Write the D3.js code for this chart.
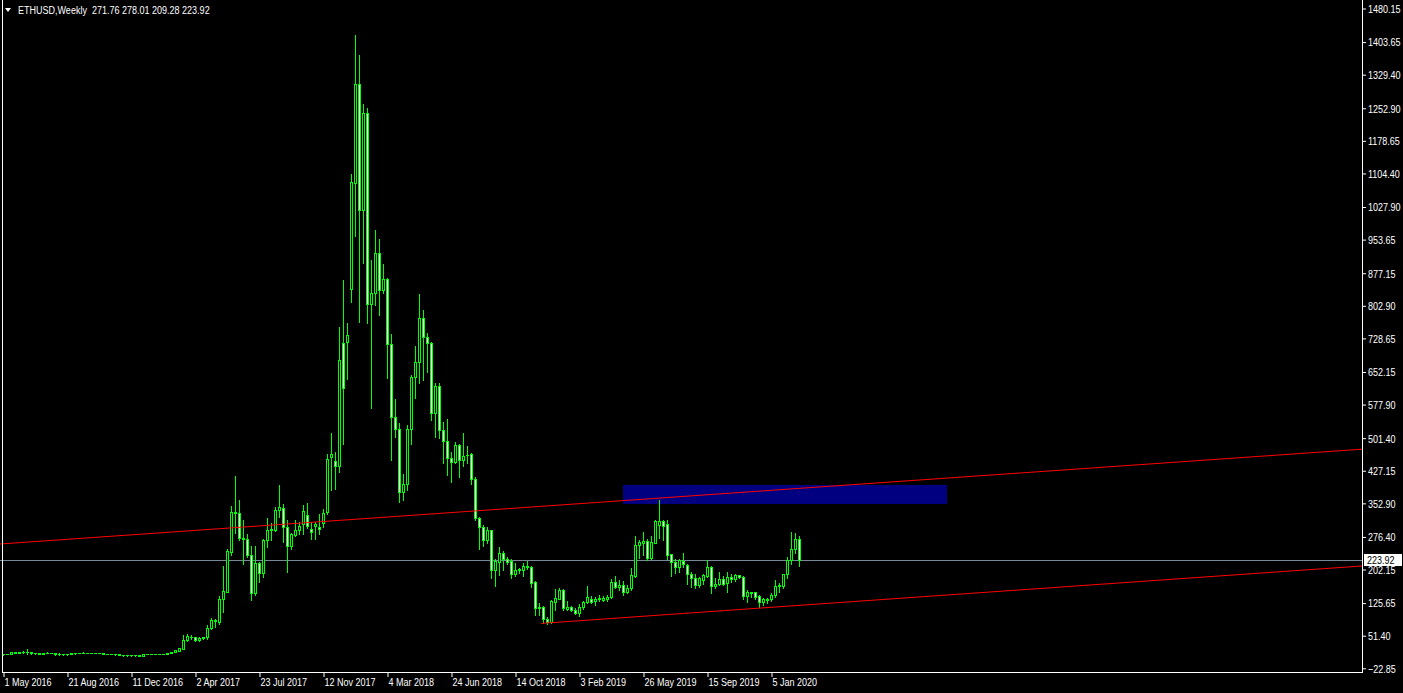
<!DOCTYPE html>
<html>
<head>
<meta charset="utf-8">
<script src="https://cdn.jsdelivr.net/npm/d3@7"></script>
<style>
  body { margin: 0; background: #000; overflow: hidden; }
  text { font-family: "Liberation Sans", Arial, sans-serif; font-size: 11px; fill: #fff; }
</style>
</head>
<body>
<script>
const W = 1403, H = 693;

// weekly bars, first bar = week of 1 May 2016
const opens = [
  9.0, 9.3, 9.6, 13.5, 12.8, 13.3, 14.0, 13.8, 11.5, 11.4,
  10.0, 12.1, 12.5, 12.3, 9.5, 10.0, 9.0, 10.0, 11.5, 11.6,
  11.4, 12.4, 11.8, 11.7, 11.6, 11.8, 9.6, 9.5, 9.4, 9.2,
  7.0, 7.2, 6.5, 6.9, 6.7, 6.0, 9.0, 9.4, 9.6, 9.3,
  9.2, 10.2, 12.6, 13.8, 16.7, 21.5, 40.5, 49.5, 47.5, 40.5,
  46.5, 48, 70, 87, 83, 136, 152, 243, 334, 332,
  274, 271, 236, 148, 216, 195, 269, 293, 293, 338,
  343, 300, 256, 281, 292, 306, 327, 294, 302, 299,
  307, 333, 458, 450, 438, 719, 721, 842, 1083, 1308,
  1022, 1241, 808, 831, 924, 840, 863, 716, 549, 523,
  379, 396, 523, 640, 675, 774, 732, 719, 558, 620,
  521, 495, 457, 448, 485, 451, 462, 465, 409, 319,
  300, 269, 292, 201, 220, 239, 225, 221, 193, 202,
  201, 210, 208, 174, 114, 116, 89, 82, 129, 136,
  155, 113, 117, 111, 104, 116, 129, 136, 130, 134,
  133, 134, 139, 173, 163, 167, 151, 161, 188, 257,
  263, 267, 229, 263, 303, 312, 306, 237, 220, 207,
  222, 213, 193, 182, 167, 178, 188, 208, 165, 170,
  180, 171, 186, 180, 189, 186, 142, 150, 150, 141,
  129, 136, 134, 143, 164, 165, 192, 224, 250, 271.76
];
const highs = [
  10.0, 10.5, 14.0, 14.5, 15.0, 15.5, 20.5, 14.2, 12.5, 12.0,
  12.6, 13.5, 13.0, 12.5, 11.0, 10.5, 10.5, 12.0, 12.0, 12.5,
  14.0, 12.6, 12.0, 12.0, 12.0, 12.0, 10.0, 10.0, 10.0, 9.4,
  7.8, 7.6, 7.2, 7.2, 7.0, 9.5, 10.0, 10.2, 10.0, 9.8,
  10.6, 13.0, 14.5, 19.5, 24.5, 53.0, 54.5, 53.5, 48.5, 49.5,
  49, 75, 92, 90, 142, 210, 248, 347, 415, 360,
  315, 283, 256, 256, 220, 272, 319, 309, 345, 394,
  351, 316, 286, 315, 311, 349, 354, 311, 311, 328,
  339, 466, 514, 469, 755, 861, 763, 1103, 1420, 1374,
  1262, 1254, 907, 975, 956, 898, 867, 738, 590, 535,
  420, 531, 645, 711, 829, 793, 740, 721, 626, 626,
  539, 546, 470, 493, 489, 514, 483, 468, 413, 322,
  303, 299, 293, 225, 254, 245, 231, 225, 218, 206,
  218, 221, 210, 177, 126, 119, 95, 132, 157, 159,
  157, 130, 120, 115, 123, 130, 164, 142, 140, 144,
  142, 144, 180, 187, 178, 176, 167, 205, 278, 269,
  287, 271, 278, 315, 360, 316, 316, 237, 227, 227,
  240, 214, 197, 193, 184, 193, 224, 210, 182, 197,
  187, 197, 192, 193, 190, 187, 155, 151, 151, 143,
  138, 138, 148, 179, 172, 193, 230, 288, 286, 278.01
];
const lows = [
  8.5, 8.8, 9.3, 12.0, 12.3, 12.8, 10.5, 10.5, 10.0, 9.5,
  9.5, 11.0, 11.0, 8.0, 8.5, 8.0, 8.5, 9.0, 10.5, 11.0,
  11.0, 11.0, 11.2, 11.2, 11.2, 9.0, 9.0, 9.0, 8.5, 6.5,
  6.2, 6.2, 6.2, 6.3, 5.8, 5.8, 8.6, 9.0, 9.0, 8.8,
  9.0, 10.0, 12.0, 13.5, 15.5, 20.5, 38.5, 44.5, 39.5, 38.5,
  44, 45, 67, 72, 78, 106, 152, 235, 286, 269,
  214, 230, 133, 144, 174, 186, 253, 269, 290, 321,
  265, 197, 250, 278, 283, 283, 296, 271, 271, 283,
  300, 328, 383, 385, 425, 489, 637, 812, 961, 766,
  901, 764, 569, 804, 782, 832, 639, 451, 505, 356,
  360, 383, 488, 594, 626, 634, 653, 542, 503, 501,
  445, 417, 402, 444, 413, 438, 445, 397, 315, 250,
  255, 262, 182, 164, 190, 202, 214, 182, 188, 195,
  187, 204, 163, 98, 98, 81, 79, 81, 110, 135,
  110, 110, 108, 100, 97, 112, 125, 125, 121, 131,
  131, 131, 138, 161, 155, 145, 148, 155, 184, 229,
  235, 224, 225, 262, 273, 269, 227, 187, 195, 197,
  208, 169, 163, 161, 163, 170, 186, 149, 161, 167,
  167, 151, 174, 177, 182, 134, 129, 139, 136, 116,
  121, 126, 131, 139, 151, 161, 182, 214, 240, 209.28
];
const closes = [
  9.3, 9.6, 13.5, 12.8, 13.3, 14.0, 13.8, 11.5, 11.4, 10.0,
  12.1, 12.5, 12.3, 9.5, 10.0, 9.0, 10.0, 11.5, 11.6, 11.4,
  12.4, 11.8, 11.7, 11.6, 11.8, 9.6, 9.5, 9.4, 9.2, 7.0,
  7.2, 6.5, 6.9, 6.7, 6.0, 9.0, 9.4, 9.6, 9.3, 9.2,
  10.2, 12.6, 13.8, 19.0, 22.8, 41.8, 50.5, 49, 40.5, 46.5,
  47.6, 70, 87, 85, 136, 153, 245, 334, 332, 274,
  271, 235, 148, 216, 195, 269, 293, 293.5, 338, 344,
  300, 256, 283, 292, 301, 335, 301, 288, 305, 295,
  330, 455, 465, 438, 679, 615, 737, 1085, 1308, 1022,
  1241, 808, 831, 924, 840, 863, 717, 549, 522, 379,
  397, 523, 640, 675, 774, 732, 719, 558, 620, 521,
  495, 457, 448, 485, 451, 461, 463, 409, 319, 300,
  269, 292, 201, 222, 239, 225, 220, 193, 202, 202.5,
  210, 207, 172, 114, 116, 89, 82, 130, 138, 155,
  114, 116, 110, 104, 117, 129, 140, 129, 136, 138,
  138, 140, 173, 163, 167, 151, 161, 189, 257, 264,
  268, 229, 265, 312, 312, 302, 235, 220, 207, 224,
  214, 192, 182, 167, 182, 189, 208, 165, 170, 180,
  170, 186, 180, 189, 184, 142, 151, 148, 140, 129,
  136, 132, 145, 164, 167, 192, 224, 250, 271, 223.92
];

const xTickLabels = ["1 May 2016", "21 Aug 2016", "11 Dec 2016", "2 Apr 2017", "23 Jul 2017",
  "12 Nov 2017", "4 Mar 2018", "24 Jun 2018", "14 Oct 2018", "3 Feb 2019",
  "26 May 2019", "15 Sep 2019", "5 Jan 2020"];
const yTicks = [1480.15, 1403.65, 1329.40, 1252.90, 1178.65, 1104.40, 1027.90, 953.65, 877.15,
  802.90, 728.65, 652.15, 577.90, 501.40, 427.15, 352.90, 276.40, 202.15, 125.65, 51.40, -22.85];

// objects drawn on the chart (bar index, price)
const upperLine = [[0, 260.8], [199, 387.0]];
const lowerLine = [[135, 79.7], [199, 120.5]];
const zone = [[155, 394.8], [236, 351.5]];
const lastPrice = 223.92;

const plotRight = 1362, plotBottom = 672;
const narrow = 0.82; // terminal font is narrower than Liberation Sans

const svg = d3.select("body").append("svg")
    .attr("width", W)
    .attr("height", H)
    .style("display", "block")
    .style("background", "#000");

const x = d3.scaleLinear().domain([0, 199]).range([3, 799]);
const y = d3.scaleLinear().domain([-22.85, 1480.15]).range([668.3, 8.5]);

const bars = closes.map((c, i) => ({i, o: opens[i], h: highs[i], l: lows[i], c}));

// rectangle zone (background object)
svg.append("rect")
    .attr("x", x(zone[0][0]))
    .attr("y", y(zone[0][1]))
    .attr("width", x(zone[1][0]) - x(zone[0][0]))
    .attr("height", y(zone[1][1]) - y(zone[0][1]))
    .attr("fill", "#000080");

// last price line
svg.append("line")
    .attr("x1", 0).attr("x2", plotRight)
    .attr("y1", Math.round(y(lastPrice)) + 0.5).attr("y2", Math.round(y(lastPrice)) + 0.5)
    .attr("stroke", "#778899")
    .attr("stroke-width", 1);

// candles
const candles = svg.append("g").attr("shape-rendering", "crispEdges");
candles.selectAll(".wick").data(bars).join("rect")
    .attr("class", "wick")
    .attr("x", d => x(d.i))
    .attr("width", 1)
    .attr("y", d => Math.round(y(d.h)))
    .attr("height", d => Math.max(1, Math.round(y(d.l)) - Math.round(y(d.h)) + 1))
    .attr("fill", "#00ff00");
candles.selectAll(".body").data(bars).join("rect")
    .attr("class", "body")
    .attr("x", d => x(d.i) - 1)
    .attr("width", 3)
    .attr("y", d => Math.round(y(Math.max(d.o, d.c))))
    .attr("height", d => Math.round(y(Math.min(d.o, d.c))) - Math.round(y(Math.max(d.o, d.c))) + 1)
    .attr("fill", "#00ff00");
candles.selectAll(".inner")
    .data(bars.filter(d => Math.round(y(Math.min(d.o, d.c))) - Math.round(y(Math.max(d.o, d.c))) >= 2))
    .join("rect")
    .attr("class", "inner")
    .attr("x", d => x(d.i))
    .attr("width", 1)
    .attr("y", d => Math.round(y(Math.max(d.o, d.c))) + 1)
    .attr("height", d => Math.round(y(Math.min(d.o, d.c))) - Math.round(y(Math.max(d.o, d.c))) - 1)
    .attr("fill", d => d.c < d.o ? "#ffffff" : "#000000");

// trend lines, extended to the right edge
function trend(pts, fromIdx) {
  const k = (pts[1][1] - pts[0][1]) / (pts[1][0] - pts[0][0]);
  const endIdx = x.invert(plotRight);
  const p = i => pts[0][1] + k * (i - pts[0][0]);
  svg.append("line")
      .attr("x1", x(fromIdx)).attr("y1", y(p(fromIdx)))
      .attr("x2", x(endIdx)).attr("y2", y(p(endIdx)))
      .attr("stroke", "#ff0000")
      .attr("stroke-width", 1);
}
trend(upperLine, x.invert(0));
trend(lowerLine, 134.5);

// frame
svg.append("g").attr("shape-rendering", "crispEdges")
  .selectAll("line")
  .data([[plotRight + 0.5, 0, plotRight + 0.5, plotBottom + 0.5], [2.5, 0, 2.5, plotBottom + 0.5], [2, plotBottom + 0.5, plotRight + 1, plotBottom + 0.5]])
  .join("line")
    .attr("x1", d => d[0]).attr("y1", d => d[1])
    .attr("x2", d => d[2]).attr("y2", d => d[3])
    .attr("stroke", "#fff");

// price axis
const yAxis = svg.append("g")
    .attr("transform", `translate(${plotRight + 1},0)`)
    .call(d3.axisRight(y).tickValues(yTicks).tickSize(3).tickSizeOuter(0).tickFormat(d3.format(".2f")));
yAxis.select(".domain").remove();
yAxis.selectAll("line").attr("stroke", "#fff");
yAxis.selectAll("text")
    .attr("x", 5 / narrow).attr("dy", "0.35em")
    .attr("transform", `scale(${narrow},1)`)
    .style("font-size", "11px").style("font-family", null);

// time axis
const xAxis = svg.append("g")
    .attr("transform", `translate(0,${plotBottom})`)
    .call(d3.axisBottom(x).tickValues(d3.range(0, closes.length, 16)).tickSize(5).tickSizeOuter(0)
      .tickFormat((d, k) => xTickLabels[k]));
xAxis.select(".domain").remove();
xAxis.selectAll("line").attr("stroke", "#fff").attr("transform", "translate(0.5,0)");
xAxis.selectAll("text")
    .attr("text-anchor", "start").attr("x", 1 / narrow).attr("y", 6).attr("dy", "0.71em")
    .attr("transform", `scale(${narrow},1)`)
    .style("font-size", "11px").style("font-family", null);

// last price tag
const tagY = Math.round(y(lastPrice));
svg.append("rect")
    .attr("x", plotRight + 2).attr("y", tagY - 6)
    .attr("width", 38).attr("height", 12)
    .attr("fill", "#fff");
svg.append("text")
    .attr("x", (plotRight + 5) / narrow).attr("y", tagY).attr("dy", "0.35em")
    .attr("transform", `scale(${narrow},1)`)
    .style("fill", "#000")
    .text(d3.format(".2f")(lastPrice));

// header
svg.append("path")
    .attr("d", "M5,8 L11,8 L8,12 Z")
    .attr("fill", "#fff");
svg.append("text")
    .attr("x", 18 / narrow).attr("y", 14)
    .attr("transform", `scale(${narrow},1)`)
    .attr("xml:space", "preserve")
    .style("white-space", "pre")
    .text(`ETHUSD,Weekly  ${opens[199]} ${highs[199]} ${lows[199]} ${closes[199]}`);
</script>
</body>
</html>
